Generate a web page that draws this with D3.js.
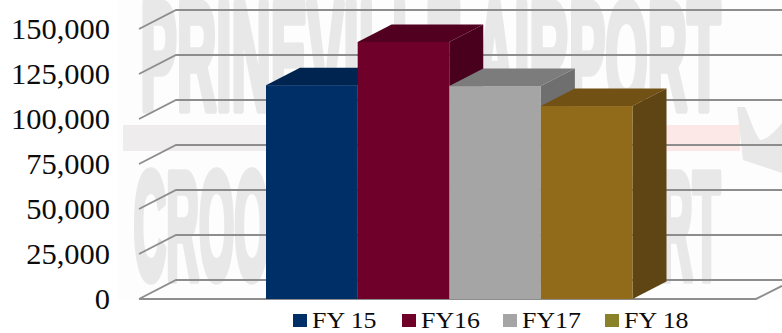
<!DOCTYPE html>
<html>
<head>
<meta charset="utf-8">
<title>Airport operations by fiscal year</title>
<script src="https://cdnjs.cloudflare.com/ajax/libs/d3/7.8.5/d3.min.js"></script>
<style>
  html, body { margin: 0; padding: 0; background: #fff; overflow: hidden; }
  svg { display: block; }
  text { font-family: "Liberation Serif", serif; fill: #0c0c0c; }
</style>
</head>
<body>
<svg id="chart" width="782" height="333"></svg>
<script>
// Chart values
const categories = ["FY 15", "FY16", "FY17", "FY 18"];
const operations = [118800, 142800, 118300, 107200];
const tickValues = [0, 25000, 50000, 75000, 100000, 125000, 150000];

// Face shades of each column, front / top / side
const frontColors = ["#002e66", "#6e0029", "#a5a5a5", "#916a1a"];
const topColors = ["#002450", "#520020", "#7c7c7c", "#725214"];
const sideColors = ["#001d42", "#48001c", "#6f6f6f", "#5f4513"];
const legendColors = ["#002e66", "#6e0029", "#a5a5a5", "#8a8228"];
const legendStarts = [293, 402, 503, 605];

const svg = d3.select("#chart");

const y = d3.scaleLinear().domain([0, 150000]).range([299, 29]);
const x = d3.scaleBand().domain(categories).range([266, 632.5]).padding(0);

const plot = { left: 139, right: 756 };
const wall = { dx: 37, dy: -19 };
const bar = { dx: 34, dy: -17.5 };

// Faded letterhead behind the plot
const mark = svg.append("g");
mark.append("rect").attr("x", 118).attr("y", 0).attr("width", 664).attr("height", 300).attr("fill", "#fdfdfd");
mark.append("rect").attr("x", 123).attr("y", 125).attr("width", 543).attr("height", 26).attr("fill", "#eeecec");
mark.append("rect").attr("x", 666).attr("y", 125).attr("width", 74).attr("height", 26).attr("fill", "#fde8e8");

// Heavy condensed lettering: bold sans squeezed to width and thickened with a stroke
const markStroke = 7;
const markLines = [
  { text: "PRINEVILLE AIRPORT", x: 137, base: 108.5, len: 587 },
  { text: "CROOK COUNTY AIRPORT", x: 130, base: 278.5, len: 594 }
];
mark.selectAll("text.mark").data(markLines).join("text")
  .attr("class", "mark")
  .attr("font-size", 152)
  .style("font-family", "'Liberation Sans', sans-serif")
  .style("font-weight", "700")
  .style("fill", "#e8e8e8")
  .style("stroke", "#e8e8e8")
  .style("stroke-width", markStroke)
  .style("stroke-linejoin", "round")
  .style("vector-effect", "non-scaling-stroke")
  .text(d => d.text)
  .attr("transform", function (d) {
    const sx = (d.len - markStroke) / this.getComputedTextLength();
    return `translate(${d.x + markStroke / 2},${d.base}) scale(${sx},1)`;
  });

// Tail fin of the airplane emblem at the right edge
mark.append("path")
  .attr("d", "M737,107 L743,160 L782,173 L782,123 C775,132 766,140 760,140 C754,132 750,118 745,107 Z")
  .attr("fill", "#e8e8e8");

// Gridlines run along the left wall and then across the back wall
const grid = svg.append("g")
  .attr("fill", "none")
  .attr("stroke", "#8d8d8d")
  .attr("stroke-width", 1.8);
grid.selectAll("path").data(tickValues).join("path")
  .attr("d", d => `M${plot.left},${y(d)} L${plot.left + wall.dx},${y(d) + wall.dy} L782,${y(d) + wall.dy}`);
// Front edge of the floor and its right-hand return
grid.append("path")
  .attr("d", `M${plot.left},${y(0)} L${plot.right},${y(0)} L${plot.right + 26},${y(0) - 13}`)
  .attr("stroke-width", 2);

// Columns, drawn left to right so each one overlaps its neighbour's side
const columns = svg.append("g").selectAll("g")
  .data(categories.map((c, i) => ({ c, v: operations[i], i })))
  .join("g");

columns.append("path")
  .attr("fill", d => topColors[d.i])
  .attr("d", d => {
    const l = x(d.c), r = l + x.bandwidth(), t = y(d.v);
    return `M${l},${t} L${l + bar.dx},${t + bar.dy} L${r + bar.dx},${t + bar.dy} L${r},${t} Z`;
  });
columns.append("path")
  .attr("fill", d => sideColors[d.i])
  .attr("d", d => {
    const r = x(d.c) + x.bandwidth(), t = y(d.v), b = y(0);
    return `M${r},${t} L${r + bar.dx},${t + bar.dy} L${r + bar.dx},${b + bar.dy} L${r},${b} Z`;
  });
columns.append("rect")
  .attr("x", d => x(d.c))
  .attr("y", d => y(d.v))
  .attr("width", x.bandwidth())
  .attr("height", d => y(0) - y(d.v))
  .attr("fill", d => frontColors[d.i]);

// Value axis
const axis = svg.append("g")
  .attr("transform", "translate(110,0)")
  .call(d3.axisLeft(y).tickValues(tickValues).tickSize(0).tickPadding(0).tickFormat(d3.format(",")));
axis.select(".domain").remove();
axis.selectAll("text")
  .attr("x", 0)
  .attr("dy", null)
  .attr("y", 9.5)
  .attr("transform", "scale(1.05,1)")
  .style("font-family", "'Liberation Serif', serif")
  .attr("font-size", 29)
  .attr("text-anchor", "end");

// Legend along the bottom edge
const legend = svg.append("g").selectAll("g")
  .data(categories.map((c, i) => ({ c, i })))
  .join("g")
  .attr("transform", d => `translate(${legendStarts[d.i]},0)`);
legend.append("rect")
  .attr("x", 0).attr("y", 314).attr("width", 14).attr("height", 13)
  .attr("fill", d => legendColors[d.i]);
legend.append("text")
  .attr("transform", "translate(19,327.6) scale(1.08,1)")
  .attr("font-size", 24)
  .text(d => d.c);
</script>
</body>
</html>
